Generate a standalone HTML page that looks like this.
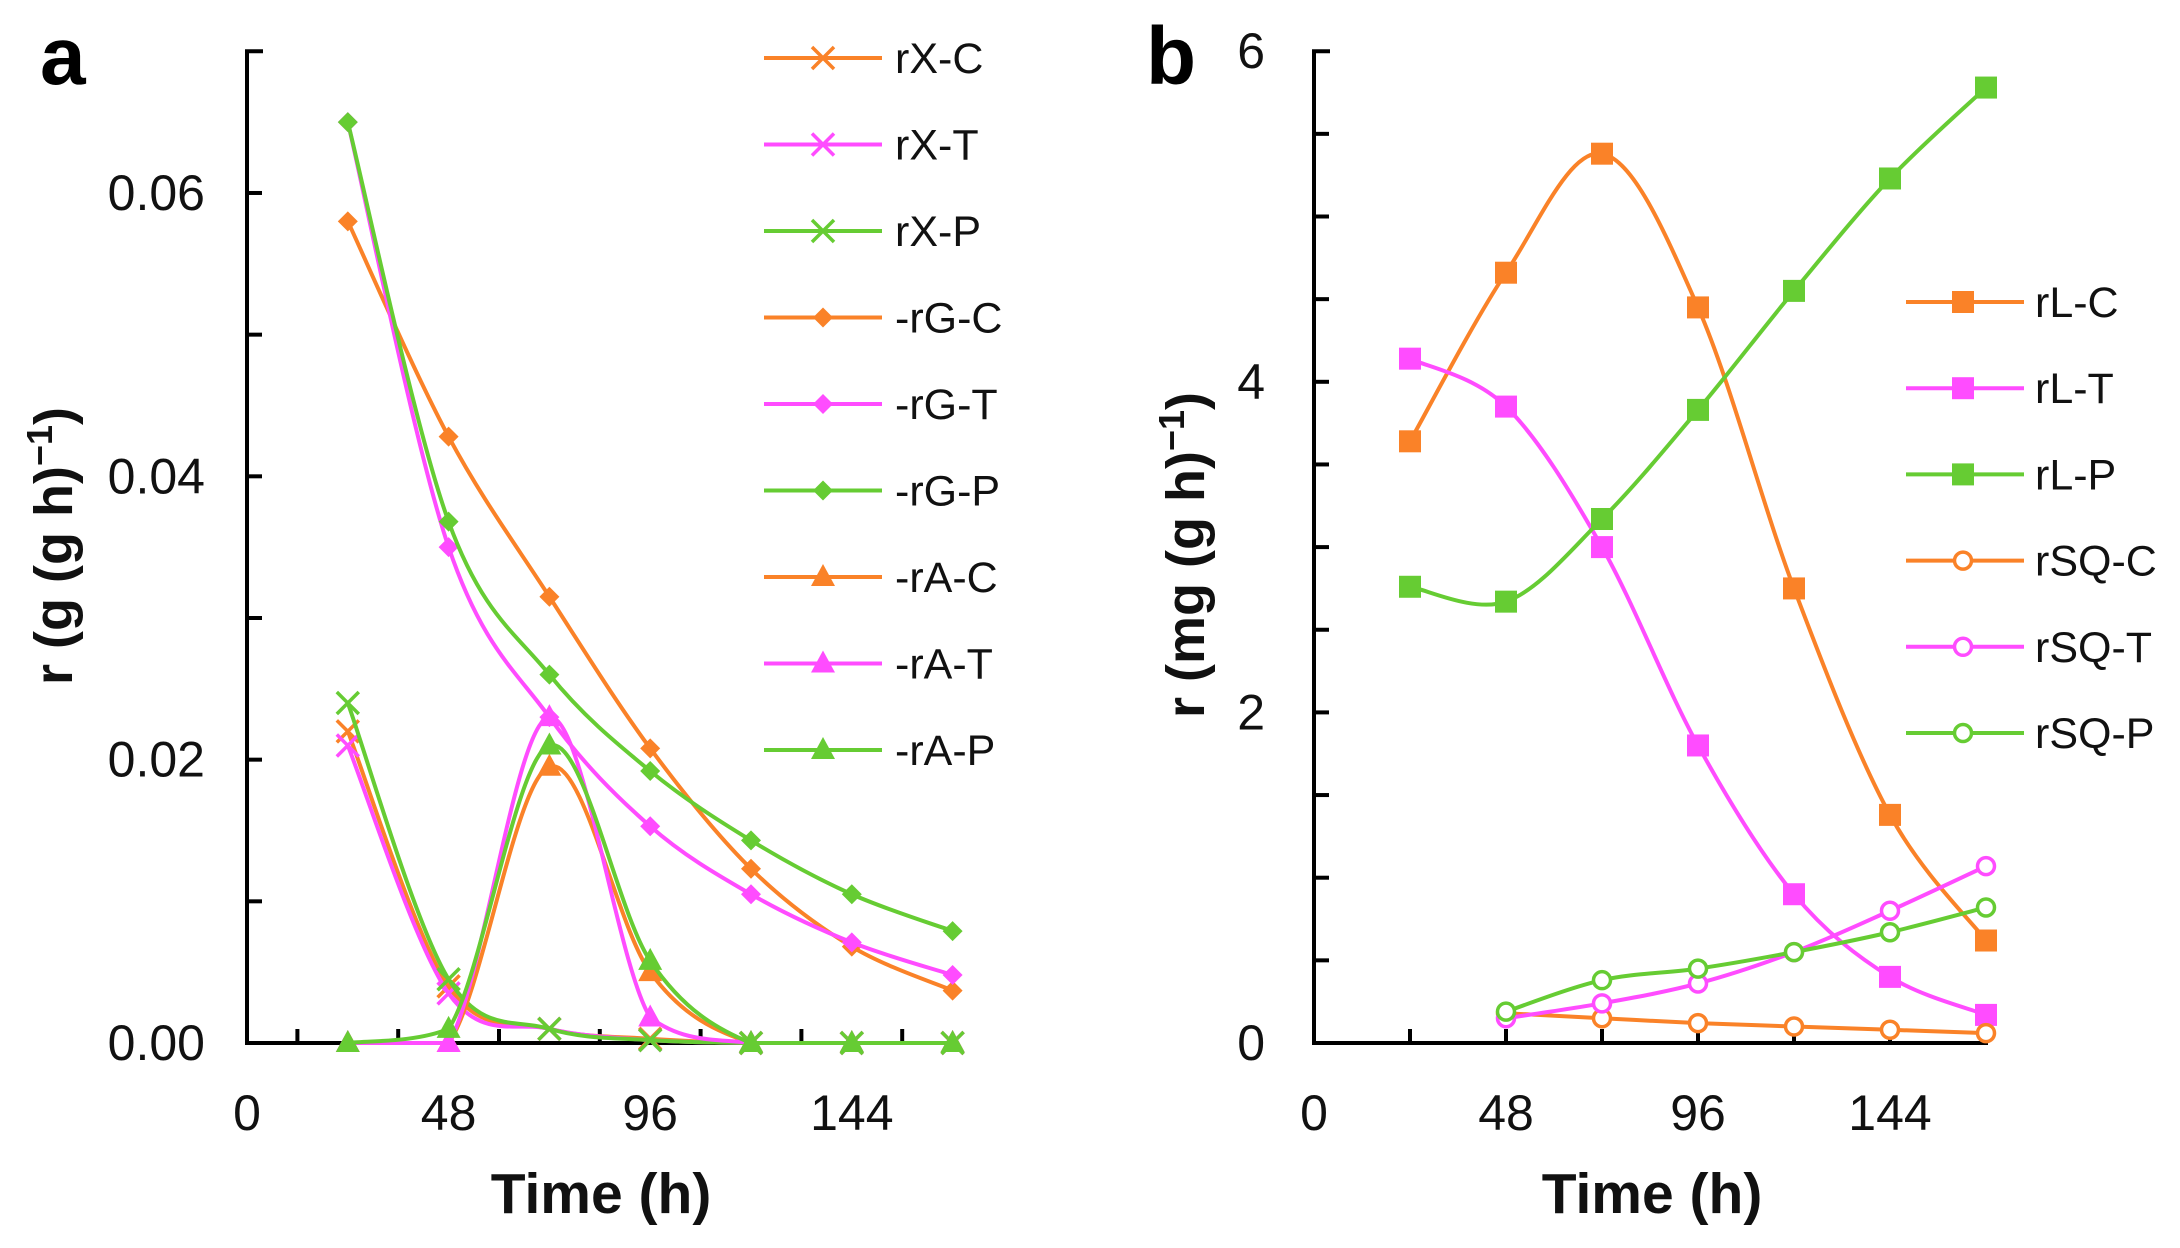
<!DOCTYPE html>
<html><head><meta charset="utf-8"><style>
html,body{margin:0;padding:0;background:#fff;}
svg{display:block;font-family:"Liberation Sans",Arial,sans-serif;}
</style></head><body>
<svg id="chart" width="2180" height="1248" viewBox="0 0 2180 1248" xmlns="http://www.w3.org/2000/svg"></svg>
<script>
// ---------- Data ----------
const timesA = [24, 48, 72, 96, 120, 144, 168];
const rXC = [0.022, 0.004, 0.001, 0.0003, 0, 0, 0];
const rXT = [0.021, 0.0035, 0.001, 0.0002, 0, 0, 0];
const rXP = [0.024, 0.0045, 0.001, 0.0002, 0, 0, 0];
const rGC = [0.058, 0.0428, 0.0315, 0.0208, 0.0123, 0.0068, 0.0037];
const rGT = [0.065, 0.035, 0.023, 0.0153, 0.0105, 0.0071, 0.0048];
const rGP = [0.065, 0.0368, 0.026, 0.0192, 0.0143, 0.0105, 0.0079];
const rAC = [0, 0, 0.0195, 0.005, 0, 0, 0];
const rAT = [0, 0, 0.023, 0.0018, 0, 0, 0];
const rAP = [0, 0.001, 0.021, 0.0058, 0, 0, 0];
const ticksA = ["0.00", "0.02", "0.04", "0.06"];
const tickValsA = [0, 0.02, 0.04, 0.06];

const timesB = [24, 48, 72, 96, 120, 144, 168];
const timesSQ = [48, 72, 96, 120, 144, 168];
const rLC = [3.64, 4.66, 5.38, 4.45, 2.75, 1.38, 0.62];
const rLT = [4.14, 3.85, 3.0, 1.8, 0.9, 0.4, 0.17];
const rLP = [2.76, 2.67, 3.17, 3.83, 4.55, 5.23, 5.78];
const rSQC = [0.18, 0.15, 0.12, 0.1, 0.08, 0.06];
const rSQT = [0.15, 0.24, 0.36, 0.55, 0.8, 1.07];
const rSQP = [0.19, 0.38, 0.45, 0.55, 0.67, 0.82];
const ticksB = ["0", "2", "4", "6"];
const tickValsB = [0, 2, 4, 6];
const xTickLabels = ["0", "48", "96", "144"];
const xTickVals = [0, 48, 96, 144];

// ---------- Scales ----------
const OR = "#FA8228", MG = "#FF4CFF", GR = "#66CC33";
const xA = t => 247 + t * 4.2;
const yA = v => 1043 - v * 14167;
const xB = t => 1314 + t * 4.0;
const yB = v => 1043 - v * 165.3;

const NS = "http://www.w3.org/2000/svg";
const svg = document.getElementById("chart");
function el(tag, attrs, parent) {
  const e = document.createElementNS(NS, tag);
  for (const k in attrs) e.setAttribute(k, attrs[k]);
  (parent || svg).appendChild(e);
  return e;
}
function smoothPath(pts, floorY) {
  let d = "M" + pts[0][0] + "," + pts[0][1];
  for (let i = 0; i < pts.length - 1; i++) {
    const p0 = pts[i - 1] || pts[i], p1 = pts[i], p2 = pts[i + 1], p3 = pts[i + 2] || p2;
    const c1x = p1[0] + (p2[0] - p0[0]) / 6;
    let c1y = p1[1] + (p2[1] - p0[1]) / 6;
    const c2x = p2[0] - (p3[0] - p1[0]) / 6;
    let c2y = p2[1] - (p3[1] - p1[1]) / 6;
    if (floorY !== undefined) { c1y = Math.min(c1y, floorY); c2y = Math.min(c2y, floorY); }
    d += " C" + c1x + "," + c1y + " " + c2x + "," + c2y + " " + p2[0] + "," + p2[1];
  }
  return d;
}
function marker(g, type, x, y, color) {
  let m;
  if (type === "x") {
    m = el("path", {d: `M${x-11},${y-11}L${x+11},${y+11}M${x-11},${y+11}L${x+11},${y-11}`, stroke: color, "stroke-width": 3.5, fill: "none"}, g);
  } else if (type === "diamond") {
    m = el("path", {d: `M${x},${y-10}L${x+10},${y}L${x},${y+10}L${x-10},${y}Z`, fill: color}, g);
  } else if (type === "tri") {
    m = el("path", {d: `M${x},${y-13}L${x+12},${y+9}L${x-12},${y+9}Z`, fill: color}, g);
  } else if (type === "square") {
    m = el("rect", {x: x-11, y: y-11, width: 22, height: 22, fill: color}, g);
  } else {
    m = el("circle", {cx: x, cy: y, r: 8.5, fill: "#fff", stroke: color, "stroke-width": 3.5}, g);
  }
  
  
}
function series(name, xs, ys, xf, yf, color, type) {
  const g = el("g", {});
  
  
  const pts = xs.map((t, i) => [xf(t), yf(ys[i])]);
  const p = el("path", {d: smoothPath(pts, yf(0)), fill: "none", stroke: color, "stroke-width": 4}, g);
  
  
  pts.forEach(q => marker(g, type, q[0], q[1], color));
}
function text(str, attrs, name) {
  const t = el("text", attrs);
  t.textContent = str;
  
  
  return t;
}
function axes(xf, yf, x0, tickVals, tickLabels, minorStep, maxV, xMinor, name, labelRight) {
  const g = el("g", {});
  
  
  const ax = xf(0), ay = yf(0), top = yf(maxV), right = xf(168) + 2;
  el("path", {d: `M${ax+16},${top}L${ax},${top}L${ax},${ay}L${right},${ay}`, fill: "none", stroke: "#000", "stroke-width": 4}, g);
  for (let v = minorStep; v < maxV - 1e-9; v += minorStep) {
    el("line", {x1: ax, x2: ax + 15, y1: yf(v), y2: yf(v), stroke: "#000", "stroke-width": 4}, g);
  }
  xMinor.forEach(t => el("line", {x1: xf(t), x2: xf(t), y1: ay, y2: ay - 14, stroke: "#000", "stroke-width": 4}, g));
  tickVals.forEach((v, i) => text(tickLabels[i], {x: labelRight, y: yf(v) + 17, "text-anchor": "end", "font-size": 50, fill: "#111"}, name + '-y-tick-label'));
  xTickVals.forEach((v, i) => text(xTickLabels[i], {x: xf(v), y: 1130, "text-anchor": "middle", "font-size": 50, fill: "#111"}, name + '-x-tick-label'));
}

// ---------- Panel a ----------
axes(xA, yA, 247, tickValsA, ticksA, 0.01, 0.07, [12, 36, 60, 84, 108, 132, 156], "panel-a", 205);
series("rX-C", timesA, rXC, xA, yA, OR, "x");
series("rX-T", timesA, rXT, xA, yA, MG, "x");
series("rX-P", timesA, rXP, xA, yA, GR, "x");
series("rA-C", timesA, rAC, xA, yA, OR, "tri");
series("rA-T", timesA, rAT, xA, yA, MG, "tri");
series("rA-P", timesA, rAP, xA, yA, GR, "tri");
series("rG-C", timesA, rGC, xA, yA, OR, "diamond");
series("rG-T", timesA, rGT, xA, yA, MG, "diamond");
series("rG-P", timesA, rGP, xA, yA, GR, "diamond");

// ---------- Panel b ----------
axes(xB, yB, 1314, tickValsB, ticksB, 0.5, 6, [24, 48, 72, 96, 120, 144], "panel-b", 1265);
series("rL-C", timesB, rLC, xB, yB, OR, "square");
series("rL-T", timesB, rLT, xB, yB, MG, "square");
series("rL-P", timesB, rLP, xB, yB, GR, "square");
series("rSQ-C", timesSQ, rSQC, xB, yB, OR, "circle");
series("rSQ-T", timesSQ, rSQT, xB, yB, MG, "circle");
series("rSQ-P", timesSQ, rSQP, xB, yB, GR, "circle");

// ---------- Legends ----------
const legA = [["rX-C", OR, "x"], ["rX-T", MG, "x"], ["rX-P", GR, "x"], ["-rG-C", OR, "diamond"], ["-rG-T", MG, "diamond"], ["-rG-P", GR, "diamond"], ["-rA-C", OR, "tri"], ["-rA-T", MG, "tri"], ["-rA-P", GR, "tri"]];
legA.forEach((e, i) => {
  const y = 58 + i * 86.5;
  const g = el("g", {});
  
  
  el("line", {x1: 764, x2: 882, y1: y, y2: y, stroke: e[1], "stroke-width": 4}, g);
  marker(g, e[2], 823, y, e[1]);
  const t = el("text", {x: 895, y: y + 15, "font-size": 43, fill: "#111"}, g);
  t.textContent = e[0];
});
const legB = [["rL-C", OR, "square"], ["rL-T", MG, "square"], ["rL-P", GR, "square"], ["rSQ-C", OR, "circle"], ["rSQ-T", MG, "circle"], ["rSQ-P", GR, "circle"]];
legB.forEach((e, i) => {
  const y = 302 + i * 86.2;
  const g = el("g", {});
  
  
  el("line", {x1: 1906, x2: 2024, y1: y, y2: y, stroke: e[1], "stroke-width": 4}, g);
  marker(g, e[2], 1963, y, e[1]);
  const t = el("text", {x: 2035, y: y + 15, "font-size": 43, fill: "#111"}, g);
  t.textContent = e[0];
});

// ---------- Titles ----------
text("a", {x: 40, y: 84, "font-size": 82, "font-weight": "bold", fill: "#000"}, "panel-a-label");
text("b", {x: 1146, y: 84, "font-size": 82, "font-weight": "bold", fill: "#000"}, "panel-b-label");
text("Time (h)", {x: 601, y: 1213, "text-anchor": "middle", "font-size": 57, "font-weight": "bold", fill: "#111"}, "panel-a-x-axis-title");
text("Time (h)", {x: 1652, y: 1213, "text-anchor": "middle", "font-size": 57, "font-weight": "bold", fill: "#111"}, "panel-b-x-axis-title");
const ya = el("text", {transform: "translate(72,546) rotate(-90)", "text-anchor": "middle", "font-size": 54, "font-weight": "bold", fill: "#111"});


ya.innerHTML = 'r (g (g h)<tspan dy="-20" font-size="36">−1</tspan><tspan dy="20">)</tspan>';
const yb = el("text", {transform: "translate(1204,555) rotate(-90)", "text-anchor": "middle", "font-size": 54, "font-weight": "bold", fill: "#111"});


yb.innerHTML = 'r (mg (g h)<tspan dy="-20" font-size="36">−1</tspan><tspan dy="20">)</tspan>';
</script>
</body></html>
